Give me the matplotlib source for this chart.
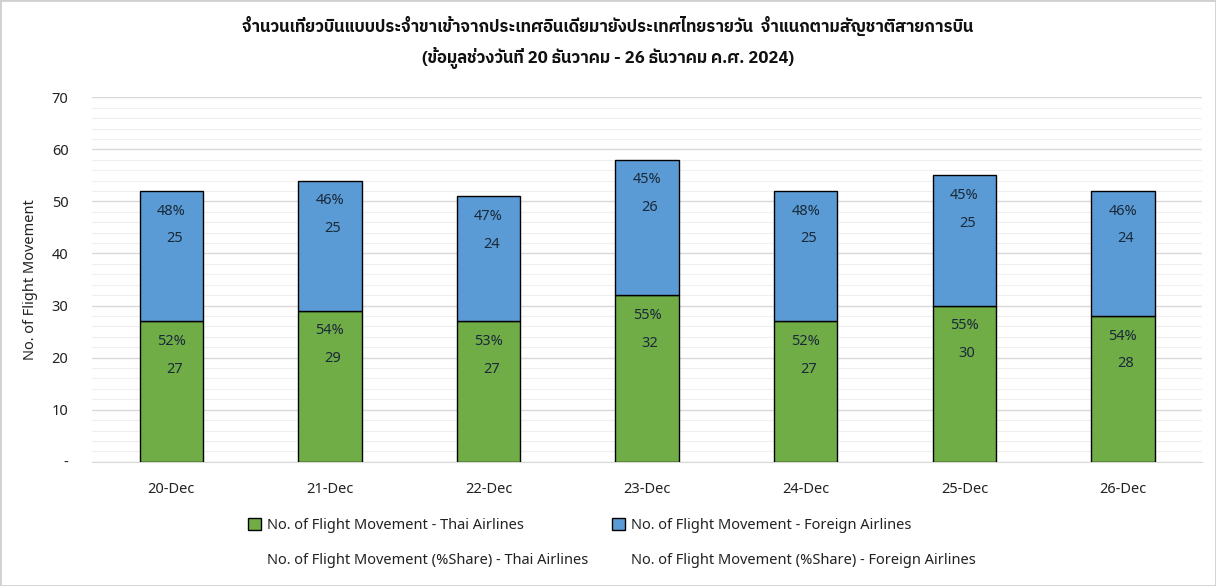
import matplotlib
matplotlib.use("Agg")
import matplotlib.pyplot as plt
from matplotlib import font_manager
from matplotlib.ft2font import FT2Font
from matplotlib.patches import Patch, Rectangle
from matplotlib.ticker import MultipleLocator, FuncFormatter

dates = ["20-Dec", "21-Dec", "22-Dec", "23-Dec", "24-Dec", "25-Dec", "26-Dec"]
thai = [27, 29, 27, 32, 27, 30, 28]
foreign = [25, 25, 24, 26, 25, 25, 24]
thai_pct = ["52%", "54%", "53%", "55%", "52%", "55%", "54%"]
foreign_pct = ["48%", "46%", "47%", "45%", "48%", "45%", "46%"]

title_line1 = "จำนวนเที่ยวบินแบบประจำขาเข้าจากประเทศอินเดียมายังประเทศไทยรายวัน  จำแนกตามสัญชาติสายการบิน"
title_line2 = "(ข้อมูลช่วงวันที่ 20 ธันวาคม - 26 ธันวาคม ค.ศ. 2024)"

# find a font with Thai glyphs
thai_font = None
for f in font_manager.fontManager.ttflist:
    try:
        ft = FT2Font(f.fname)
        if ord("จ") in ft.get_charmap():
            thai_font = f.name
            if "Sans" in f.name:
                break
    except Exception:
        pass

fam = [thai_font, "DejaVu Sans"] if thai_font else ["DejaVu Sans"]
plt.rcParams["font.family"] = ["Noto Sans", "DejaVu Sans"]

fig = plt.figure(figsize=(12.16, 5.86), dpi=100)
ax = fig.add_axes([0.0757, 0.212, 0.913, 0.622])

x = list(range(len(dates)))
w = 0.40
green = "#70AD47"
blue = "#5B9BD5"
ax.bar(x, thai, w, color=green, edgecolor="black", linewidth=1.0, zorder=3)
ax.bar(x, foreign, w, bottom=thai, color=blue, edgecolor="black", linewidth=1.0, zorder=3)

lab_col = "#1a2a3a"
for i in x:
    top1 = thai[i]
    top2 = thai[i] + foreign[i]
    for top, pct, val in [(top1, thai_pct[i], thai[i]), (top2, foreign_pct[i], foreign[i])]:
        ax.annotate(pct, (i, top), xytext=(0, -14.5), textcoords="offset points",
                    ha="center", va="center", fontsize=10.5, color=lab_col, zorder=4)
        ax.annotate(str(val), (i, top), xytext=(2, -34.5), textcoords="offset points",
                    ha="center", va="center", fontsize=10.5, color=lab_col, zorder=4)

ax.set_xlim(-0.5, len(dates) - 0.5)
ax.set_ylim(0, 70)
ax.yaxis.set_major_locator(MultipleLocator(10))
ax.yaxis.set_minor_locator(MultipleLocator(2))
ax.yaxis.set_major_formatter(FuncFormatter(lambda v, p: "-" if v == 0 else f"{int(v)}"))
ax.grid(axis="y", which="major", color="#d9d9d9", linewidth=1.0, zorder=0)
ax.grid(axis="y", which="minor", color="#efefef", linewidth=0.8, zorder=0)
ax.set_xticks(x)
ax.set_xticklabels(dates)
ax.tick_params(axis="both", which="both", length=0, labelsize=10.5, colors="#222222")
ax.tick_params(axis="x", pad=14.5)
ax.tick_params(axis="y", pad=17)
for s in ["top", "right", "left"]:
    ax.spines[s].set_visible(False)
ax.spines["bottom"].set_color("#d9d9d9")
ax.set_ylabel("No. of Flight Movement", fontsize=10.5, color="#222222", labelpad=10)

fig.text(0.5, 0.955, title_line1, ha="center", va="center", fontsize=12,
         fontweight="bold", family=fam, color="#111111")
fig.text(0.5, 0.901, title_line2, ha="center", va="center", fontsize=12,
         fontweight="bold", family=fam, color="#111111")

handles = [Patch(facecolor=green, edgecolor="black"),
           Patch(facecolor=blue, edgecolor="black"),
           Patch(facecolor="none", edgecolor="none"),
           Patch(facecolor="none", edgecolor="none")]
labels = ["No. of Flight Movement - Thai Airlines",
          "No. of Flight Movement - Foreign Airlines",
          "No. of Flight Movement (%Share) - Thai Airlines",
          "No. of Flight Movement (%Share) - Foreign Airlines"]
order = [0, 2, 1, 3]
leg = fig.legend([handles[k] for k in order], [labels[k] for k in order], ncol=2,
                 loc="center", bbox_to_anchor=(0.503, 0.074), frameon=False,
                 fontsize=10.5, handlelength=0.9, handleheight=0.9, handletextpad=0.4,
                 columnspacing=1.65, labelspacing=1.35)
for t in leg.get_texts():
    t.set_color("#222222")

fig.patches.append(Rectangle((0, 0), 1, 1, transform=fig.transFigure, fill=False,
                             edgecolor="#d0d0d0", linewidth=2))
fig.savefig("out.png", dpi=100, facecolor="white")
